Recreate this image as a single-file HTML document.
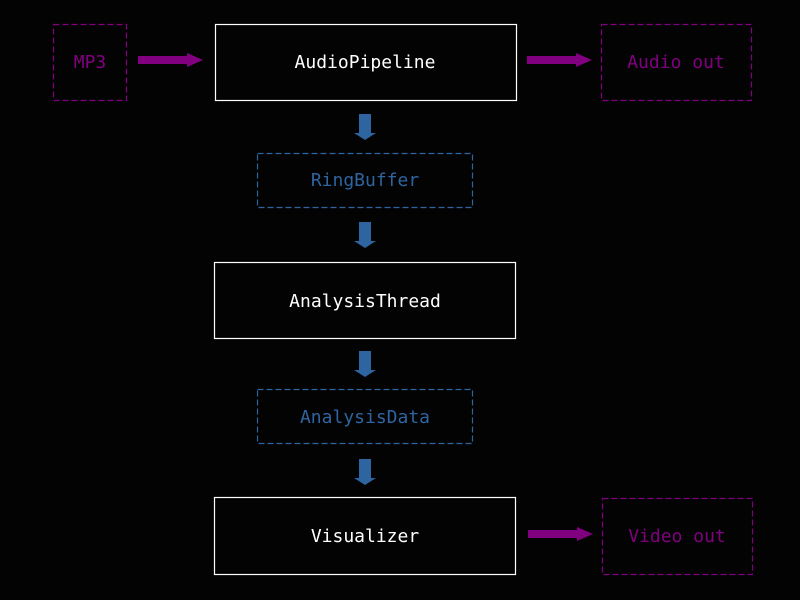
<!DOCTYPE html>
<html><head><style>html,body{margin:0;background:#030303;}svg{display:block}text{font-family:"DejaVu Sans Mono","Liberation Mono",monospace;font-size:18px}</style></head>
<body>
<svg width="800" height="600" xmlns="http://www.w3.org/2000/svg" text-anchor="middle">
<rect width="800" height="600" fill="#030303"/>
<g fill="none" stroke-width="1.2">
<rect x="53.5" y="24.5" width="73" height="76" stroke="#800080" stroke-dasharray="6,3"/>
<rect x="215.5" y="24.5" width="301" height="76" stroke="#fff"/>
<rect x="601.5" y="24.5" width="150" height="76" stroke="#800080" stroke-dasharray="6,3"/>
<rect x="257.5" y="153.5" width="215" height="54" stroke="#2e64a0" stroke-dasharray="6,3"/>
<rect x="214.5" y="262.5" width="301" height="76" stroke="#fff"/>
<rect x="257.5" y="389.5" width="215" height="54" stroke="#2e64a0" stroke-dasharray="6,3"/>
<rect x="214.5" y="497.5" width="301" height="77" stroke="#fff"/>
<rect x="602.5" y="498.5" width="150" height="76" stroke="#800080" stroke-dasharray="6,3"/>
</g>
<g fill="#800080">
<polygon points="138,56 187,56 187,53 203,60 187,67 187,64 138,64"/>
<polygon points="527,56 576,56 576,53 592,60 576,67 576,64 527,64"/>
<polygon points="528,530 577,530 577,527 593,534 577,541 577,538 528,538"/>
</g>
<g fill="#2e64a0">
<polygon points="359,114 371,114 371,133 376,133 365,140 354,133 359,133"/>
<polygon points="359,222 371,222 371,241 376,241 365,248 354,241 359,241"/>
<polygon points="359,351 371,351 371,370 376,370 365,377 354,370 359,370"/>
<polygon points="359,459 371,459 371,478 376,478 365,485 354,478 359,478"/>
</g>
<text x="90" y="68" fill="#800080">MP3</text>
<text x="365" y="68" fill="#fff">AudioPipeline</text>
<text x="676" y="68" fill="#800080">Audio out</text>
<text x="365" y="186" fill="#2e64a0">RingBuffer</text>
<text x="365" y="307" fill="#fff">AnalysisThread</text>
<text x="365" y="423" fill="#2e64a0">AnalysisData</text>
<text x="365" y="542" fill="#fff">Visualizer</text>
<text x="677" y="542" fill="#800080">Video out</text>
</svg>
</body></html>
